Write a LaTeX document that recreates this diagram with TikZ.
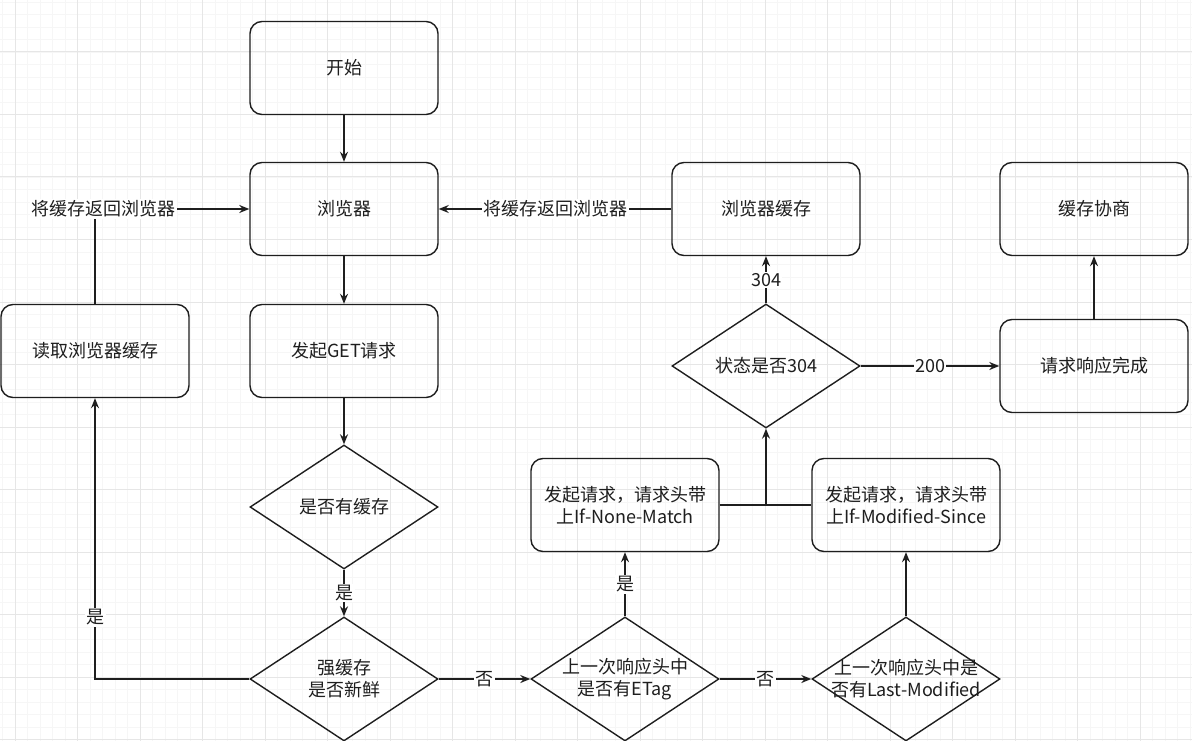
\documentclass[tikz,border=0pt]{standalone}
\usepackage{fontspec}
\setmainfont{Noto Sans CJK SC}
\usetikzlibrary{arrows.meta,shapes.geometric}
\definecolor{gridmaj}{HTML}{E6E6E6}
\definecolor{gridmin}{HTML}{F6F6F6}
\definecolor{ink}{HTML}{1E1E1E}
\begin{document}
\begin{tikzpicture}[x=1pt,y=-1pt,
  tfont/.style={font=\fontsize{18}{22}\selectfont},
  box/.style={draw=ink, line width=1.4pt, rounded corners=12pt, minimum width=188pt, minimum height=93pt, inner sep=0pt, align=center, text=ink, tfont},
  dia/.style={draw=ink, line width=1.4pt, diamond, shape aspect=1.5, minimum width=188pt, minimum height=124pt, inner sep=0pt},
  txt/.style={align=center, text=ink, tfont, inner sep=0pt},
  lab/.style={fill=white, inner sep=1.5pt, text=ink, tfont},
  arr/.style={draw=ink, line width=1.4pt, -{Stealth[length=10pt,width=8pt]}},
  ln/.style={draw=ink, line width=1.4pt}]
\useasboundingbox (0,0) rectangle (1192,741);
\fill[white] (0,0) rectangle (1192,741);
% grid
\foreach \i in {0,...,95} {\draw[gridmin, line width=0.6pt] ({2.5+\i*12.5},0) -- ({2.5+\i*12.5},741);}
\foreach \i in {0,...,59} {\draw[gridmin, line width=0.6pt] (0,{2+\i*12.5}) -- (1192,{2+\i*12.5});}
\foreach \i in {0,...,18} {\draw[gridmaj, line width=1pt] ({15+\i*62.5},0) -- ({15+\i*62.5},741);}
\foreach \i in {0,...,12} {\draw[gridmaj, line width=1pt] (0,{-10.5+\i*62.5}) -- (1192,{-10.5+\i*62.5});}

% nodes
\node[box] (start) at (344,68) {开始};
\node[box] (browser) at (344,209) {浏览器};
\node[box] (get) at (344,351) {发起GET请求};
\node[box] (read) at (95,351) {读取浏览器缓存};
\node[dia] (has) at (344,507) {};
\node[txt] at (has) {是否有缓存};
\node[dia] (fresh) at (344,679) {};
\node[txt] at (fresh) {强缓存\\是否新鲜};
\node[dia] (etag) at (625,679) {};
\node[txt] at (etag) {上一次响应头中\\是否有ETag};
\node[dia] (lm) at (906,679) {};
\node[txt] at (lm) {上一次响应头中是\\否有Last-Modified};
\node[box] (ifnone) at (625,505) {发起请求，请求头带\\上If-None-Match};
\node[box] (ifmod) at (906,505) {发起请求，请求头带\\上If-Modified-Since};
\node[dia] (s304) at (766,366) {};
\node[txt] at (s304) {状态是否304};
\node[box] (cache) at (766,209) {浏览器缓存};
\node[box] (done) at (1094,366) {请求响应完成};
\node[box] (nego) at (1094,209) {缓存协商};
\coordinate (j) at (766,505);

% connectors
\draw[arr] (start) -- (browser);
\draw[arr] (browser) -- (get);
\draw[arr] (get) -- (has);
\draw[arr] (has) -- node[lab] {是} (fresh);
\draw[arr] (fresh.west) -| node[lab, pos=0.61] {是} (read.south);
\draw[arr] (read.north) |- node[lab, pos=0.5, xshift=8pt] {将缓存返回浏览器} (browser.west);
\draw[arr] (cache.west) -- node[lab] {将缓存返回浏览器} (browser.east);
\draw[arr] (fresh.east) -- node[lab] {否} (etag.west);
\draw[arr] (etag.east) -- node[lab] {否} (lm.west);
\draw[arr] (etag.north) -- node[lab] {是} (ifnone.south);
\draw[arr] (lm.north) -- (ifmod.south);
\draw[ln] (ifnone.east) -- (j) -- (ifmod.west);
\draw[arr] (j) -- (s304.south);
\draw[arr] (s304.north) -- node[lab] {304} (cache.south);
\draw[arr] (s304.east) -- node[lab] {200} (done.west);
\draw[arr] (done.north) -- (nego.south);
\end{tikzpicture}
\end{document}
